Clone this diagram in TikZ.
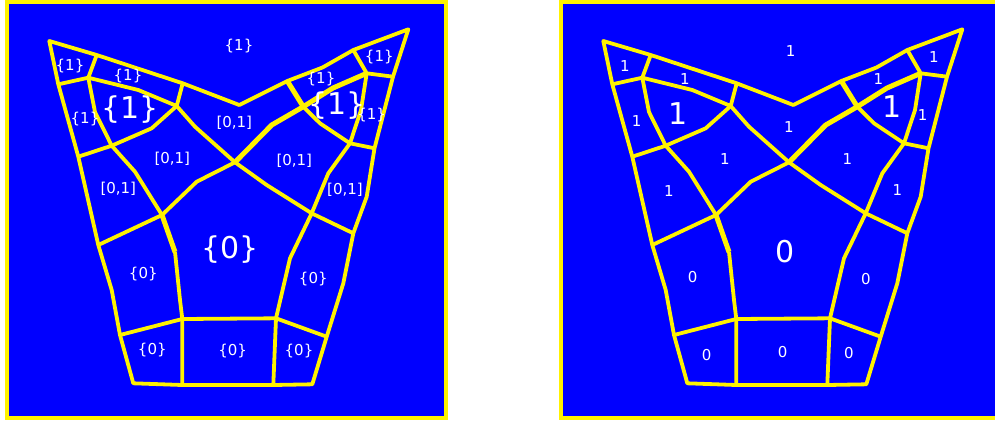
\documentclass[tikz,border=0pt]{standalone}
\usepackage{fontspec}
\setmainfont{DejaVu Sans}
\usepackage{tikz}

\begin{document}
\begin{tikzpicture}[x=1pt, y=-1pt,
    panel/.style={draw=yellow, line width=4pt, fill=blue},
    mesh/.style={draw=yellow, line width=3.8pt, line join=round},
    heavy/.style={mesh, line width=5pt},
    lbl/.style={text=white, inner sep=0pt, font=\fontsize{15}{18}\selectfont},
    biglbl/.style={lbl, font=\fontsize{30}{36}\selectfont}
]
    \useasboundingbox (0,0) rectangle (995,421);
    \clip (0,0) rectangle (995,421);

    % two panels, the same mesh in each
    \foreach \dx in {0,554} {
    \begin{scope}[xshift=\dx pt]
        \draw[panel] (6.7,2) rectangle (446.3,418);
        % outer rim
        \coordinate (tl) at (49.3,41);   \coordinate (t1) at (96.7,55);
        \coordinate (t2) at (182.7,83.3); \coordinate (tm) at (239.3,105);
        \coordinate (t3) at (287.3,81);  \coordinate (t4) at (322.5,67.5);
        \coordinate (t5) at (353.3,50);  \coordinate (tr) at (408.3,29.3);
        \coordinate (r1) at (393,76.7);  \coordinate (r2) at (374.5,148.3);
        \coordinate (r3) at (366.7,196.7); \coordinate (r4) at (353.3,233.3);
        \coordinate (r5) at (343.3,283.3); \coordinate (r6) at (326.7,336.7);
        \coordinate (br) at (312.3,384.3); \coordinate (b2) at (273.3,385);
        \coordinate (b1) at (182.3,385); \coordinate (bl) at (133.3,383.3);
        \coordinate (l6) at (120,335);   \coordinate (l5) at (111.7,290);
        \coordinate (l4) at (98.3,245);  \coordinate (l2) at (78.3,156.7);
        \coordinate (l1) at (58.3,84.3);
        % inner joints
        \coordinate (a) at (88.3,77.7);  \coordinate (b) at (176.7,106);
        \coordinate (c) at (111.7,145.7); \coordinate (d) at (162,215);
        \coordinate (e) at (182.3,319);  \coordinate (f) at (276,318.3);
        \coordinate (g) at (311.7,213.3); \coordinate (h) at (303.3,106.7);
        \coordinate (i) at (366.7,73.3); \coordinate (j) at (350,143.3);
        \coordinate (x) at (235,162.3);
        \draw[mesh] (tl) -- (t1) -- (t2) -- (tm) -- (t3) -- (t4) -- (t5) -- (tr)
            -- (r1) -- (r2) -- (r3) -- (r4) -- (r5) -- (r6) -- (br) -- (b2) -- (b1)
            -- (bl) -- (l6) -- (l5) -- (l4) -- (l2) -- (l1) -- cycle;
        \draw[mesh] (t1) -- (a) -- (l1);
        \draw[mesh] (a) -- (138.3,90) -- (b) -- (t2);
        \draw[mesh] (a) -- (95,112) -- (c) -- (l2);
        \draw[mesh] (b) -- (151.7,128.3) -- (c);
        \draw[mesh] (c) -- (135,171.7) -- (d) -- (l4);
        \draw[heavy] (d) -- (175,252);
        \draw[mesh] (175,252) -- (180,300) -- (e) -- (b1);
        \draw[mesh] (l6) -- (e) -- (f) -- (b2);
        \draw[mesh] (f) -- (r6);
        \draw[mesh] (f) -- (290,258.3) -- (g) -- (r4);
        \draw[mesh] (b) -- (195,126.7) -- (x) -- (266.7,185) -- (g);
        \draw[mesh] (d) -- (196.7,181.7) -- (x);
        \draw[heavy] (x) -- (271.7,125) -- (h) -- (333,88) -- (i);
        \draw[heavy] (t3) -- (h);
        \draw[mesh] (t5) -- (i) -- (r1);
        \draw[mesh] (h) -- (320,123.3) -- (j) -- (r2);
        \draw[mesh] (i) -- (361,110) -- (j) -- (328.3,173.3) -- (g);
    \end{scope}
    }

    % left panel: sets
    \node[lbl] (o1) at (239,46) {\{1\}};
    \node[lbl] (p1) at (70,66) {\{1\}};
    \node[lbl] (p2) at (128,76) {\{1\}};
    \node[biglbl] (p3) at (130,110) {\{1\}};
    \node[lbl] (p4) at (85,119.5) {\{1\}};
    \node[lbl] (p5) at (321,78.7) {\{1\}};
    \node[lbl] (p6) at (379.3,57.3) {\{1\}};
    \node[biglbl] (p7) at (336.7,106) {\{1\}};
    \node[lbl] (p8) at (371.7,115) {\{1\}};
    \node[lbl] (q1) at (234.3,122.3) {[0,1]};
    \node[lbl] (q2) at (172.3,159) {[0,1]};
    \node[lbl] (q3) at (294.3,160.7) {[0,1]};
    \node[lbl] (q4) at (118.3,188.3) {[0,1]};
    \node[lbl] (q5) at (345,190) {[0,1]};
    \node[biglbl] (z1) at (230,250) {\{0\}};
    \node[lbl] (z2) at (143.3,274) {\{0\}};
    \node[lbl] (z3) at (313.3,279) {\{0\}};
    \node[lbl] (z4) at (152.3,350) {\{0\}};
    \node[lbl] (z5) at (232.7,350.7) {\{0\}};
    \node[lbl] (z6) at (299,351) {\{0\}};

    % right panel: values
    \node[lbl] (v1) at (790.7,50.7) {1};
    \node[lbl] (v2) at (625,65.7) {1};
    \node[lbl] (v3) at (685,79) {1};
    \node[biglbl] (v4) at (678.3,113.3) {1};
    \node[lbl] (v5) at (636.7,120.7) {1};
    \node[lbl] (v6) at (789,127.3) {1};
    \node[lbl] (v7) at (725,159.3) {1};
    \node[lbl] (v8) at (847.3,158.7) {1};
    \node[lbl] (v9) at (669,191) {1};
    \node[lbl] (v10) at (897.3,190) {1};
    \node[lbl] (v11) at (878.3,78.7) {1};
    \node[lbl] (v12) at (934,57.3) {1};
    \node[biglbl] (v13) at (892.3,106.7) {1};
    \node[lbl] (v14) at (922.7,115) {1};
    \node[biglbl] (w1) at (785,251.7) {0};
    \node[lbl] (w2) at (692.7,276.7) {0};
    \node[lbl] (w3) at (866,279) {0};
    \node[lbl] (w4) at (706.7,355) {0};
    \node[lbl] (w5) at (782.7,352.3) {0};
    \node[lbl] (w6) at (849,353.3) {0};
\end{tikzpicture}
\end{document}
